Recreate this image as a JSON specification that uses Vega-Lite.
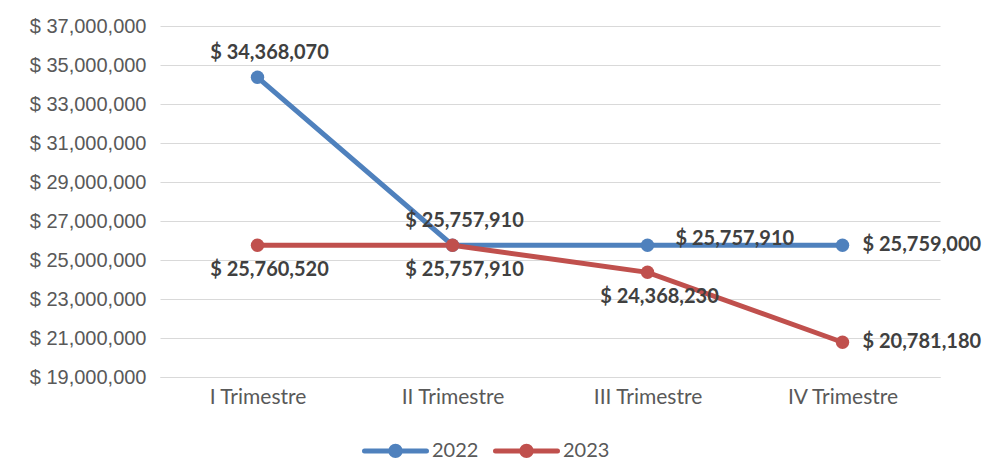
{
  "$schema": "https://vega.github.io/schema/vega-lite/v6.json",
  "width": 780,
  "height": 351,
  "autosize": {"type": "none"},
  "padding": {"left": 160, "top": 26, "right": 47, "bottom": 91},
  "background": "white",
  "config": {
    "font": "Lato",
    "view": {"stroke": null}
  },
  "data": {
    "values": [
      {"t": "I Trimestre", "serie": "2022", "v": 34368070},
      {"t": "II Trimestre", "serie": "2022", "v": 25757910},
      {"t": "III Trimestre", "serie": "2022", "v": 25757910},
      {"t": "IV Trimestre", "serie": "2022", "v": 25759000},
      {"t": "I Trimestre", "serie": "2023", "v": 25760520},
      {"t": "II Trimestre", "serie": "2023", "v": 25757910},
      {"t": "III Trimestre", "serie": "2023", "v": 24368230},
      {"t": "IV Trimestre", "serie": "2023", "v": 20781180}
    ]
  },
  "transform": [{"calculate": "'$ ' + format(datum.v, ',')", "as": "lbl"}],
  "encoding": {
    "x": {
      "field": "t", "type": "nominal", "sort": null, "title": null,
      "scale": {"type": "point", "padding": 0.5},
      "axis": {"labelAngle": 0, "domain": true, "domainColor": "#d9d9d9", "domainWidth": 1, "ticks": false, "labelPadding": 9, "grid": false,
        "labelFont": "Lato", "labelFontSize": 21, "labelColor": "#595959"}
    },
    "y": {
      "field": "v", "type": "quantitative", "title": null,
      "scale": {"domain": [19000000, 37000000], "nice": false, "zero": false},
      "axis": {
        "values": [19000000, 21000000, 23000000, 25000000, 27000000, 29000000, 31000000, 33000000, 35000000, 37000000],
        "labelExpr": "'$ ' + format(datum.value, ',')",
        "labelFont": "Liberation Sans", "labelFontSize": 20, "labelColor": "#595959",
        "domain": false, "ticks": false, "labelPadding": 14,
        "gridColor": "#d9d9d9", "gridWidth": 1
      }
    }
  },
  "layer": [
    {
      "mark": {"type": "line", "strokeWidth": 5},
      "encoding": {
        "color": {
          "field": "serie", "type": "nominal", "title": null,
          "scale": {"domain": ["2022", "2023"], "range": ["#4f81bd", "#c0504d"]},
          "legend": {
            "orient": "none", "direction": "horizontal",
            "legendX": 202, "legendY": 391,
            "symbolType": "M -1 0 L 1 0 M 0.15 0 A 0.15 0.15 0 1 1 -0.15 0 A 0.15 0.15 0 1 1 0.15 0 Z",
            "symbolSize": 3844,
            "symbolStrokeWidth": 5,
            "symbolOpacity": 1,
            "labelFontSize": 20, "labelColor": "#595959", "labelFont": "Lato",
            "columnPadding": 6, "labelOffset": 3,
            "encode": {"symbols": {"update": {"stroke": {"scale": "color", "field": "value"}, "fill": {"scale": "color", "field": "value"}, "strokeCap": {"value": "round"}, "opacity": {"value": 1}}}}
          }
        }
      }
    },
    {
      "mark": {"type": "point", "filled": true, "size": 180, "opacity": 1},
      "encoding": {
        "color": {"field": "serie", "type": "nominal"}
      }
    },
    {
      "transform": [{"filter": "(datum.serie == '2022' && (datum.t == 'I Trimestre' || datum.t == 'II Trimestre'))"}],
      "mark": {"type": "text", "fontWeight": "bold", "fontSize": 20, "color": "#404040", "dy": -24, "dx": 12},
      "encoding": {"text": {"field": "lbl"}}
    },
    {
      "transform": [{"filter": "datum.serie == '2023' && datum.t != 'IV Trimestre'"}],
      "mark": {"type": "text", "fontWeight": "bold", "fontSize": 20, "color": "#404040", "dy": 25, "dx": 12},
      "encoding": {"text": {"field": "lbl"}}
    },
    {
      "transform": [{"filter": "datum.serie == '2022' && datum.t == 'III Trimestre'"}],
      "mark": {"type": "text", "fontWeight": "bold", "fontSize": 20, "color": "#404040", "align": "left", "dx": 28, "dy": -6},
      "encoding": {"text": {"field": "lbl"}}
    },
    {
      "transform": [{"filter": "datum.t == 'IV Trimestre'"}],
      "mark": {"type": "text", "fontWeight": "bold", "fontSize": 20, "color": "#404040", "align": "left", "dx": 20},
      "encoding": {"text": {"field": "lbl"}}
    }
  ]
}
